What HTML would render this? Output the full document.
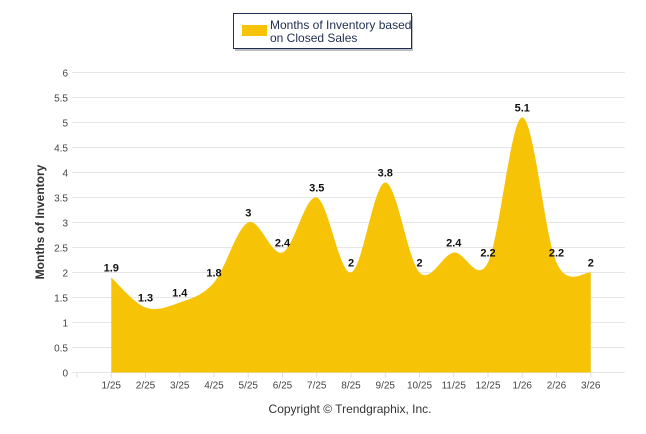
<!DOCTYPE html>
<html><head><meta charset="utf-8"><style>
body{margin:0;background:#fff;font-family:"Liberation Sans",sans-serif}
svg{display:block}
</style></head><body>
<svg id="chart" width="646" height="434">
<g id="grid"></g>
<path id="area" fill="#f7c307"></path>
<g id="ticks"></g>
<g id="labels"></g>
<text x="44" y="222" transform="rotate(-90 44 222)" text-anchor="middle" font-size="12" font-weight="bold" fill="#333">Months of Inventory</text>
<text x="350" y="413" text-anchor="middle" font-size="12" fill="#333">Copyright © Trendgraphix, Inc.</text>
<g>
<rect x="235" y="16" width="178" height="35" fill="#445" opacity="0.35"/>
<rect x="233.5" y="13.5" width="178" height="35" fill="#fff" stroke="#1f2d52" stroke-width="1"/>
<rect x="242" y="25" width="25" height="11" fill="#f7c307"/>
<text x="270" y="29" font-size="12" fill="#1f2d52"><tspan x="270">Months of Inventory based</tspan><tspan x="270" dy="13">on Closed Sales</tspan></text>
</g>
</svg>
<script>
const categories=["1/25","2/25","3/25","4/25","5/25","6/25","7/25","8/25","9/25","10/25","11/25","12/25","1/26","2/26","3/26"];
const values=[1.9,1.3,1.4,1.8,3,2.4,3.5,2,3.8,2,2.4,2.2,5.1,2.2,2];
const yTicks=[0,0.5,1,1.5,2,2.5,3,3.5,4,4.5,5,5.5,6];
const NS="http://www.w3.org/2000/svg";
const x0=77,step=34.25,yb=372.5,ppu=50;
const xs=i=>x0+step*(i+1);
const ys=v=>yb-v*ppu;
function mk(tag,attrs,parent,txt){const e=document.createElementNS(NS,tag);for(const k in attrs)e.setAttribute(k,attrs[k]);if(txt!==undefined)e.textContent=txt;parent.appendChild(e);return e;}
const grid=document.getElementById('grid');
yTicks.forEach(t=>{
 const l=mk('line',{x1:72,x2:625,y1:ys(t),y2:ys(t),stroke:'#e6e6e6'},grid);
 
 
 const tx=mk('text',{x:68,y:ys(t)+4,'text-anchor':'end','font-size':10,fill:'#444'},grid,String(t));
 
 
});
const ticks=document.getElementById('ticks');
for(let i=0;i<=categories.length;i++){
 const x=x0+step*i;
 mk('line',{x1:x,x2:x,y1:yb,y2:yb+5,stroke:'#ddd'},ticks);
}
categories.forEach((c,i)=>{
 const t=mk('text',{x:xs(i),y:yb+16,'text-anchor':'middle','font-size':10,fill:'#444'},ticks,c);
 
 
});
const pts=values.map((v,i)=>[xs(i),ys(v)]);
let d=`M${pts[0][0]},${yb}L${pts[0][0]},${pts[0][1]}`;
for(let i=0;i<pts.length-1;i++){
 const p0=pts[Math.max(0,i-1)],p1=pts[i],p2=pts[i+1],p3=pts[Math.min(pts.length-1,i+2)];
 const c1=[p1[0]+(p2[0]-p0[0])/6,p1[1]+(p2[1]-p0[1])/6];
 const c2=[p2[0]-(p3[0]-p1[0])/6,p2[1]-(p3[1]-p1[1])/6];
 d+=`C${c1[0]},${c1[1]} ${c2[0]},${c2[1]} ${p2[0]},${p2[1]}`;
}
d+=`L${pts[pts.length-1][0]},${yb}Z`;
document.getElementById('area').setAttribute('d',d);
const labels=document.getElementById('labels');
values.forEach((v,i)=>{
 const t=mk('text',{x:xs(i),y:ys(v)-6,'text-anchor':'middle','font-size':11,'font-weight':'bold',fill:'#111'},labels,String(v));
 
 
});
</script>
</body></html>
